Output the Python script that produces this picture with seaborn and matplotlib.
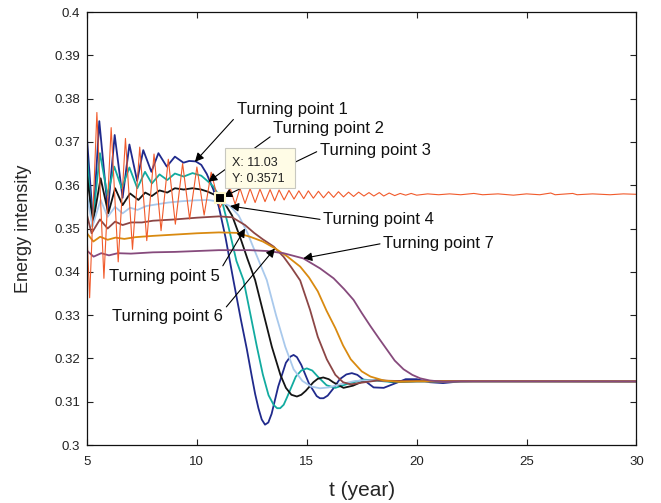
import numpy as np
import pandas as pd
import seaborn as sns
import matplotlib.pyplot as plt
from matplotlib.patches import Rectangle

# ---------------------------------------------------------------------------
# Data: energy intensity trajectories (t in years)
# ---------------------------------------------------------------------------
TIP_T, TIP_V = 11.03, 0.3571  # data-tip point on curve 3

T1 = [5.0, 5.28, 5.56, 5.95, 6.26, 6.62, 6.93, 7.28, 7.56, 7.93, 8.25, 8.63, 9.0, 9.39,
      9.65, 9.95, 10.2, 10.45, 10.75, 11.0, 11.3, 11.66, 12.0, 12.27, 12.5, 12.65, 12.8,
      12.95, 13.1, 13.25, 13.4, 13.7, 14.05, 14.25, 14.4, 14.55, 14.75, 15.1, 15.45,
      15.6, 15.76, 15.95, 16.2, 16.5, 16.8, 17.05, 17.3, 17.6, 18.04, 18.5, 19.0, 19.5,
      20.0, 20.6, 21.2, 22.0, 23.0, 30.0]
V1 = [0.3708, 0.3513, 0.3748, 0.3540, 0.3716, 0.3571, 0.3694, 0.3610, 0.3681, 0.3631,
      0.3674, 0.3643, 0.3666, 0.3652, 0.3656, 0.3655, 0.3647, 0.3626, 0.3590, 0.3550,
      0.3480, 0.3381, 0.3290, 0.3222, 0.3158, 0.3118, 0.3085, 0.3059, 0.3047, 0.3052,
      0.3072, 0.3135, 0.3190, 0.3204, 0.3208, 0.3203, 0.3185, 0.3142, 0.3113, 0.3108,
      0.3108, 0.3114, 0.3130, 0.3152, 0.3163, 0.3166, 0.3162, 0.3150, 0.3133, 0.3132,
      0.3142, 0.3152, 0.3152, 0.3145, 0.3143, 0.3147, 0.3148, 0.3147]

T2 = [5.0, 5.24, 5.59, 5.93, 6.24, 6.58, 6.93, 7.29, 7.64, 7.95, 8.3, 8.65, 9.0, 9.4,
      9.8, 10.2, 10.52, 10.75, 11.13, 11.4, 11.8, 12.12, 12.45, 12.73, 13.0, 13.26, 13.5,
      13.65, 13.79, 13.95, 14.1, 14.5, 14.75, 15.0, 15.25, 15.5, 15.9, 16.3, 16.9, 17.6,
      18.3, 19.0, 20.0, 30.0]
V2 = [0.3670, 0.3505, 0.3674, 0.3577, 0.3643, 0.3593, 0.3641, 0.3593, 0.3631, 0.3604,
      0.3625, 0.3612, 0.3627, 0.3620, 0.3628, 0.3622, 0.3608, 0.3597, 0.3566, 0.3512,
      0.3425, 0.3381, 0.3298, 0.3227, 0.3163, 0.3115, 0.3092, 0.3085, 0.3085, 0.3093,
      0.3110, 0.3158, 0.3172, 0.3177, 0.3172, 0.3158, 0.3138, 0.3132, 0.3142, 0.3151,
      0.3148, 0.3145, 0.3147, 0.3147]

T3 = [5.0, 5.27, 5.62, 5.97, 6.28, 6.62, 6.96, 7.34, 7.65, 7.95, 8.3, 8.65, 9.0, 9.4,
      9.8, 10.2, 10.5, 10.8, TIP_T, 11.3, 11.6, 12.0, 12.3, 12.65, 13.0, 13.41, 13.8,
      14.05, 14.3, 14.55, 14.75, 14.95, 15.3, 15.5, 15.75, 16.0, 16.2, 16.67, 17.1, 17.6,
      18.2, 19.0, 20.0, 30.0]
V3 = [0.3624, 0.3512, 0.3616, 0.3535, 0.3593, 0.3554, 0.3581, 0.3566, 0.3583, 0.3575,
      0.3588, 0.3583, 0.3593, 0.3590, 0.3593, 0.3590, 0.3585, 0.3578, TIP_V, 0.3555,
      0.3530, 0.3475, 0.3430, 0.3381, 0.3310, 0.3227, 0.3162, 0.3132, 0.3116, 0.3112,
      0.3116, 0.3125, 0.3145, 0.3153, 0.3156, 0.3152, 0.3145, 0.3132, 0.3137, 0.3148,
      0.3150, 0.3146, 0.3147, 0.3147]

T4 = [5.0, 5.25, 5.62, 5.94, 6.28, 6.62, 6.96, 7.3, 7.7, 8.2, 8.7, 9.3, 9.9, 10.5, 11.0,
      11.51, 11.9, 12.3, 12.7, 13.18, 13.6, 14.02, 14.4, 14.8, 15.2, 15.6, 16.0, 16.5,
      17.2, 18.0, 19.0, 30.0]
V4 = [0.3577, 0.3505, 0.3566, 0.3527, 0.3550, 0.3535, 0.3548, 0.3543, 0.3552, 0.3556,
      0.3560, 0.3563, 0.3565, 0.3566, 0.3562, 0.3552, 0.3530, 0.3490, 0.3440, 0.3381,
      0.3300, 0.3227, 0.3175, 0.3148, 0.3135, 0.3131, 0.3133, 0.3140, 0.3148, 0.3150,
      0.3147, 0.3147]

T5 = [5.0, 5.21, 5.59, 5.94, 6.28, 6.62, 7.0, 7.5, 8.0, 9.0, 10.0, 11.0, 11.6, 12.19,
      12.6, 13.0, 13.5, 13.94, 14.3, 14.7, 15.15, 15.5, 15.91, 16.3, 16.65, 17.0, 17.5,
      18.2, 19.0, 30.0]
V5 = [0.3531, 0.3489, 0.3521, 0.3500, 0.3516, 0.3508, 0.3514, 0.3514, 0.3518, 0.3521,
      0.3525, 0.3528, 0.3526, 0.3508, 0.3490, 0.3475, 0.3458, 0.3435, 0.3410, 0.3380,
      0.3312, 0.3250, 0.3198, 0.3162, 0.3145, 0.3140, 0.3144, 0.3149, 0.3148, 0.3147]

T6 = [5.0, 5.29, 5.6, 5.94, 6.3, 6.7, 7.2, 8.0, 9.0, 10.0, 11.0, 11.8, 12.42, 13.0,
      13.56, 14.1, 14.7, 15.1, 15.5, 15.9, 16.3, 16.65, 17.0, 17.5, 17.9, 18.5, 19.2,
      20.0, 30.0]
V6 = [0.3489, 0.3470, 0.3481, 0.3474, 0.3479, 0.3476, 0.3480, 0.3483, 0.3486, 0.3489,
      0.3491, 0.3490, 0.3481, 0.3470, 0.3454, 0.3436, 0.3412, 0.3387, 0.3355, 0.3310,
      0.3270, 0.3230, 0.3198, 0.3170, 0.3158, 0.3149, 0.3146, 0.3147, 0.3147]

T7 = [5.0, 5.3, 5.65, 6.0, 6.4, 7.0, 8.0, 9.0, 10.0, 11.0, 12.42, 13.2, 13.94, 14.84,
      15.6, 16.22, 16.7, 17.13, 17.5, 17.89, 18.3, 18.65, 19.0, 19.4, 19.8, 20.16, 20.6,
      21.2, 22.0, 30.0]
V7 = [0.3449, 0.3435, 0.3443, 0.3438, 0.3443, 0.3442, 0.3445, 0.3446, 0.3448, 0.3450,
      0.3450, 0.3448, 0.3443, 0.3431, 0.3408, 0.3385, 0.3360, 0.3335, 0.3305, 0.3275,
      0.3245, 0.3220, 0.3195, 0.3175, 0.3162, 0.3154, 0.3149, 0.3146, 0.3147, 0.3147]

T_RED = [5.0, 5.12, 5.45, 5.77, 6.1, 6.42, 6.75, 7.07, 7.4, 7.72, 8.05, 8.37, 8.7, 9.02,
         9.35, 9.67, 10.0, 10.33, 10.65, 11.05, 11.51, 11.74, 11.96, 12.19, 12.42, 12.65,
         12.87, 13.1, 13.33, 13.54, 13.74, 13.97, 14.19, 14.42, 14.64, 14.86, 15.07, 15.3,
         15.53, 15.76, 15.99, 16.22, 16.44, 16.67, 16.9, 17.13, 17.36, 17.6, 17.83, 18.05,
         18.3, 18.5, 18.75, 19.0, 19.25, 19.5, 19.75, 20.0, 20.5, 21.0, 21.5, 22.0, 22.6,
         23.0, 23.7, 24.4, 25.0, 25.6, 26.1, 26.3, 27.1, 27.3, 28.0, 28.8, 29.4, 30.0]
V_RED = [0.3490, 0.3340, 0.3768, 0.3385, 0.3733, 0.3423, 0.3708, 0.3452, 0.3688, 0.3472,
         0.3672, 0.3495, 0.3660, 0.3510, 0.3650, 0.3522, 0.3642, 0.3531, 0.3630, 0.3548,
         0.3594, 0.3556, 0.3593, 0.3558, 0.3592, 0.3560, 0.3591, 0.3562, 0.3590, 0.3564,
         0.3589, 0.3566, 0.3588, 0.3568, 0.3587, 0.3569, 0.3587, 0.3570, 0.3586, 0.3571,
         0.3585, 0.3572, 0.3585, 0.3573, 0.3584, 0.3574, 0.3584, 0.3575, 0.3583, 0.3575,
         0.3583, 0.3575, 0.3582, 0.3576, 0.3581, 0.3577, 0.3581, 0.3577, 0.3580, 0.3578,
         0.3580, 0.3578, 0.3581, 0.3578, 0.3580, 0.3577, 0.3580, 0.3578, 0.3582, 0.3578,
         0.3581, 0.3578, 0.3580, 0.3578, 0.3580, 0.3579]

CURVES = ["1", "2", "3", "4", "5", "6", "7"]
COLORS = ["#202a8c", "#12aba0", "#141414", "#a9c9ec", "#8c4646", "#d98a10", "#864a7c"]
RED = "#f15a2b"

X_TICKS = [5, 10, 15, 20, 25, 30]
Y_TICKS = [0.30, 0.31, 0.32, 0.33, 0.34, 0.35, 0.36, 0.37, 0.38, 0.39, 0.40]
Y_TICK_LABELS = ["0.3", "0.31", "0.32", "0.33", "0.34", "0.35", "0.36", "0.37",
                 "0.38", "0.39", "0.4"]

# Turning-point labels: (text, arrow tip (t, v), text anchor (t, v), ha, arrow start relpos)
TURNING = [
    ("Turning point 1", (9.91, 0.3654), (11.81, 0.3774), "left", (0.0, 0.1)),
    ("Turning point 2", (10.52, 0.3608), (13.48, 0.3731), "left", (0.0, 0.1)),
    ("Turning point 3", (11.20, 0.3573), (15.60, 0.3681), "left", (0.0, 0.5)),
    ("Turning point 4", (11.51, 0.3552), (15.75, 0.3520), "left", (0.0, 0.5)),
    ("Turning point 5", (12.19, 0.3500), (11.05, 0.3389), "right", (1.0, 0.9)),
    ("Turning point 6", (13.55, 0.3454), (11.19, 0.3296), "right", (1.0, 0.9)),
    ("Turning point 7", (14.84, 0.3431), (18.48, 0.3466), "left", (0.0, 0.5)),
]

# ---------------------------------------------------------------------------
sns.set_style("ticks")
plt.rcParams["font.family"] = ["Liberation Sans", "DejaVu Sans"]

frames = []
for name, t, v in zip(CURVES, [T1, T2, T3, T4, T5, T6, T7],
                      [V1, V2, V3, V4, V5, V6, V7]):
    frames.append(pd.DataFrame({"t": t, "v": v, "curve": name}))
df = pd.concat(frames, ignore_index=True)
red_df = pd.DataFrame({"t": T_RED, "v": V_RED})

fig = plt.figure(figsize=(6.61, 5.03), dpi=100)
ax = fig.add_axes([0.1316, 0.1153, 0.8313, 0.8608])

sns.lineplot(data=df, x="t", y="v", hue="curve", hue_order=CURVES,
             palette=COLORS, estimator=None, sort=False, linewidth=1.3,
             legend=False, ax=ax)
sns.lineplot(data=red_df, x="t", y="v", color=RED, estimator=None, sort=False,
             linewidth=0.8, ax=ax)
for ln in ax.get_lines():
    ln.set_solid_joinstyle("round")

ax.set_xlim(5, 30)
ax.set_ylim(0.3, 0.4)
ax.set_xticks(X_TICKS)
ax.set_xticklabels([str(x) for x in X_TICKS])
ax.set_yticks(Y_TICKS)
ax.set_yticklabels(Y_TICK_LABELS)
ax.tick_params(direction="in", top=True, right=True, length=4, width=0.8,
               labelsize=9.5, colors="#222222")
ax.tick_params(axis="x", pad=8)
ax.tick_params(axis="y", pad=5)
for sp in ax.spines.values():
    sp.set_visible(True)
    sp.set_linewidth(0.9)
    sp.set_color("#111111")

ax.set_xlabel("t (year)", fontsize=15, labelpad=9)
ax.set_ylabel("Energy intensity", fontsize=13, labelpad=16)

# turning-point annotations
for text, tip, pos, ha, rel in TURNING:
    ax.annotate(text, xy=tip, xytext=pos, ha=ha, va="center", fontsize=12,
                color="#111111", zorder=6,
                arrowprops=dict(arrowstyle="-|>", color="black", lw=0.8,
                                mutation_scale=13, shrinkA=0, shrinkB=0,
                                relpos=rel))

# data tip on curve 3
ax.plot([TIP_T], [TIP_V], marker="s", markersize=7.5, color="black",
        markeredgecolor="#fdf6c8", markeredgewidth=1.5, zorder=8)
ax.add_patch(Rectangle((11.28, 0.35935), 3.18, 0.00924, facecolor="#fffce6",
                       edgecolor="#c8c8c0", linewidth=0.8, zorder=7))
ax.text(11.58, 0.36513, f"X: {TIP_T:.2f}", fontsize=9, va="center", ha="left",
        color="#222222", zorder=9)
ax.text(11.58, 0.36143, f"Y: {TIP_V:.4f}", fontsize=9, va="center", ha="left",
        color="#222222", zorder=9)

fig.savefig("out.png", dpi=100)
